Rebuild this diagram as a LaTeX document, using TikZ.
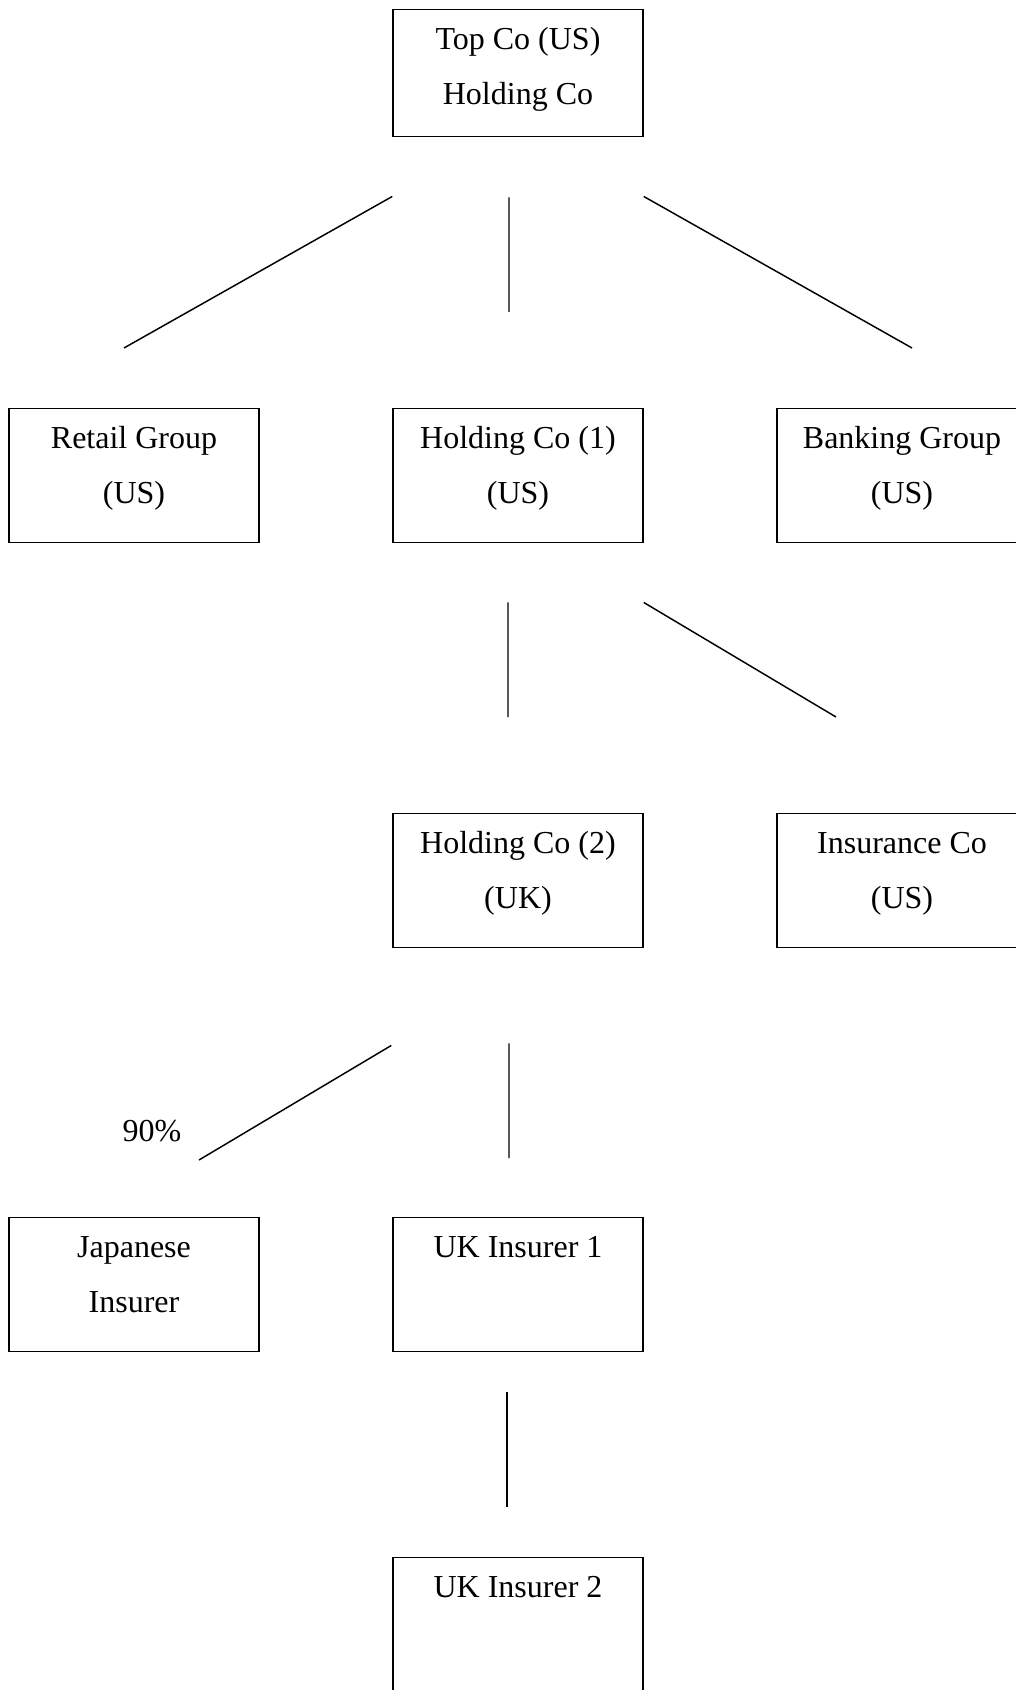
\documentclass[tikz,border=0pt]{standalone}
\usepackage{fontspec}
\setmainfont{Liberation Serif}
\usetikzlibrary{calc}
\begin{document}
\begin{tikzpicture}[x=0.75pt,y=-0.75pt,
  firm/.style={draw,line width=1.1pt,rectangle,anchor=north,align=center,
    minimum width=187.5pt,inner xsep=0pt,inner ysep=0pt,
    font=\fontsize{24}{41.25}\selectfont,text height=71.25pt,text depth=29.25pt},
  onefirm/.style={firm,text height=30pt,text depth=70.5pt},
  tie/.style={line width=1.1pt}]
\useasboundingbox (0,0) rectangle (1016,1690);
\node[firm,text depth=24pt] (top) at (518,9) {Top Co (US)\\Holding Co};%group head
\node[firm] (retail) at (134,408) {Retail Group\\(US)};
\node[firm] (hold1) at (518,408) {Holding Co (1)\\(US)};
\node[firm] (bank) at (902,408) {Banking Group\\(US)};
\node[firm] (hold2) at (518,813) {Holding Co (2)\\(UK)};
\node[firm] (ins) at (902,813) {Insurance Co\\(US)};
\node[firm] (jap) at (134,1217) {Japanese\\Insurer};
\node[onefirm] (uk1) at (518,1217) {UK Insurer 1};
\node[onefirm] (uk2) at (518,1557) {UK Insurer 2};
\node[font=\fontsize{24}{30}\selectfont] (pct) at (152,1131) {90\%};
\draw[tie] ($(top.south west)+(0,59)$) -- ($(retail.north)+(-10,-60)$)
  ($(top.south)+(-9,60)$) -- ($(hold1.north)+(-9,-96)$)
  ($(top.south east)+(0,59)$) -- ($(bank.north)+(10,-60)$);
\draw[tie] ($(hold1.south)+(-10,59)$) -- ($(hold2.north)+(-10,-96)$)
  ($(hold1.south east)+(0,59)$) -- ($(ins.north)+(-66,-96)$);
\draw[tie] ($(hold2.south west)+(-1,97)$) -- ($(jap.north)+(65,-57)$)
  ($(hold2.south)+(-9,95)$) -- ($(uk1.north)+(-9,-59)$);
\draw[tie] ($(uk1.south)+(-11,40)$) -- ($(uk2.north)+(-11,-50)$);%insurer chain
\end{tikzpicture}
\end{document}
